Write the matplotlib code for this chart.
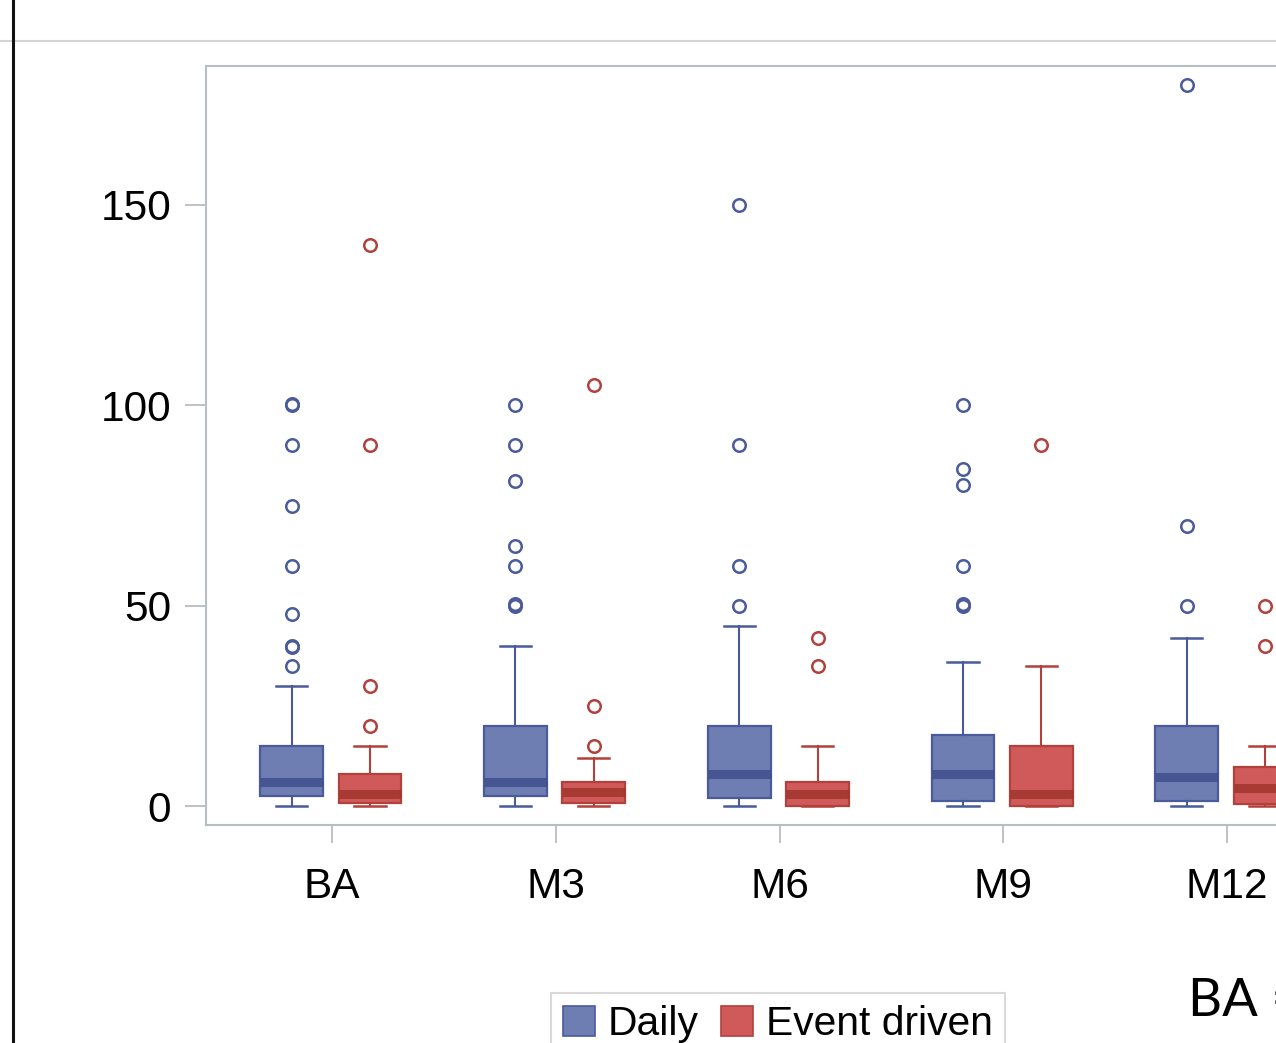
import numpy as np
import matplotlib
matplotlib.use("Agg")
import matplotlib.pyplot as plt
from matplotlib.patches import Patch
from matplotlib.lines import Line2D

# ---- data ----
categories = ["BA", "M3", "M6", "M9", "M12"]

daily_whislo = [0, 0, 0, 0, 0]
daily_q1 = [2.5, 2.5, 2.0, 1.3, 1.3]
daily_med = [6.0, 6.0, 8.0, 8.0, 7.2]
daily_q3 = [15.0, 20.0, 20.0, 17.7, 20.0]
daily_whishi = [30, 40, 45, 36, 42]
daily_outliers = [
    [35, 39.6, 40, 48, 60, 75, 90, 100, 100.3],
    [50, 50.3, 60, 65, 81, 90, 100],
    [50, 60, 90, 150],
    [50, 50.3, 60, 80, 84, 100],
    [50, 70, 180],
]

event_whislo = [0, 0, 0, 0, 0]
event_q1 = [0.8, 0.8, 0.0, 0.0, 0.5]
event_med = [3.0, 3.6, 2.9, 2.9, 4.4]
event_q3 = [8.0, 6.0, 6.0, 15.0, 9.7]
event_whishi = [15, 12, 15, 35, 15]
event_outliers = [
    [20, 30, 90, 140],
    [15, 25, 105],
    [35, 42],
    [90],
    [40, 50],
]

yticks = [0, 50, 100, 150]
series_names = ["Daily", "Event driven"]

# ---- style ----
daily_fill = "#6E7EB3"
daily_edge = "#4A5B9B"
daily_med_c = "#3F4F8E"
event_fill = "#D05A5A"
event_edge = "#B3403A"
event_med_c = "#A0352B"
frame_c = "#B8BDC1"

plt.rcParams["font.family"] = ["Liberation Sans", "DejaVu Sans"]

fig = plt.figure(figsize=(12.76, 10.43), dpi=100)
W, H = 1276, 1043
ax_left = 206 / W
ax_right = 1353 / W
ax_bottom = (H - 825) / H
ax_top = (H - 66) / H
ax = fig.add_axes([ax_left, ax_bottom, ax_right - ax_left, ax_top - ax_bottom])


def make_stats(lo, q1, med, q3, hi, out):
    return [dict(whislo=a, q1=b, med=c, q3=d, whishi=e, fliers=np.array(f), label="")
            for a, b, c, d, e, f in zip(lo, q1, med, q3, hi, out)]


x = np.arange(len(categories))
box_w = 0.28
cap_w = 0.14

for stats, pos, fill, edge, medc in [
    (make_stats(daily_whislo, daily_q1, daily_med, daily_q3, daily_whishi, daily_outliers),
     x - 0.18, daily_fill, daily_edge, daily_med_c),
    (make_stats(event_whislo, event_q1, event_med, event_q3, event_whishi, event_outliers),
     x + 0.17, event_fill, event_edge, event_med_c),
]:
    ax.bxp(stats, positions=pos, widths=box_w, capwidths=cap_w, patch_artist=True,
           showfliers=True, manage_ticks=False,
           boxprops=dict(facecolor=fill, edgecolor=edge, linewidth=1.6),
           whiskerprops=dict(color=edge, linewidth=1.5),
           capprops=dict(color=edge, linewidth=1.8),
           medianprops=dict(color=medc, linewidth=6.5, solid_capstyle="butt", alpha=0.85),
           flierprops=dict(marker="o", markersize=9, markerfacecolor="none",
                           markeredgecolor=edge, markeredgewidth=1.8, linestyle="none"))

px_per_unit = 601 / 150
ax.set_ylim(-19 / px_per_unit, (806 - 66) / px_per_unit)
ax.set_xlim(-126 / 224, len(categories) - 1 + 126 / 224)
ax.set_yticks(yticks)
ax.set_yticklabels([str(v) for v in yticks])
ax.set_xticks(x)
ax.set_xticklabels(categories)

for s in ax.spines.values():
    s.set_color(frame_c)
    s.set_linewidth(1.5)
ax.tick_params(axis="y", length=15, width=1.3, color=frame_c, labelsize=30.5, pad=10)
ax.tick_params(axis="x", length=13, width=1.3, color=frame_c, labelsize=30.5, pad=17)

# legend
handles = [Patch(facecolor=daily_fill, edgecolor=daily_edge, linewidth=1.2),
           Patch(facecolor=event_fill, edgecolor=event_edge, linewidth=1.2)]
leg = fig.legend(handles, series_names, loc="upper left",
                 bbox_to_anchor=(551 / W, (H - 993) / H), ncol=2, fontsize=29.3,
                 frameon=True, fancybox=False, handlelength=0.77, handleheight=0.77,
                 handletextpad=0.33, columnspacing=0.55, borderpad=0.3,
                 borderaxespad=0)
leg.get_frame().set_edgecolor("#D0D0D0")
leg.get_frame().set_linewidth(1.5)

# page decorations
fig.add_artist(Line2D([0, 1], [(H - 41) / H] * 2, transform=fig.transFigure,
                      color="#D4D4D4", linewidth=1.5))
fig.add_artist(Line2D([13 / W] * 2, [0, 1], transform=fig.transFigure,
                      color="#111111", linewidth=2.2))
fig.text(1188 / W, (H - 1016) / H, "BA =", fontsize=38, family=["Lato", "DejaVu Sans"],
         ha="left", va="baseline")

fig.savefig("out.png", dpi=100)
